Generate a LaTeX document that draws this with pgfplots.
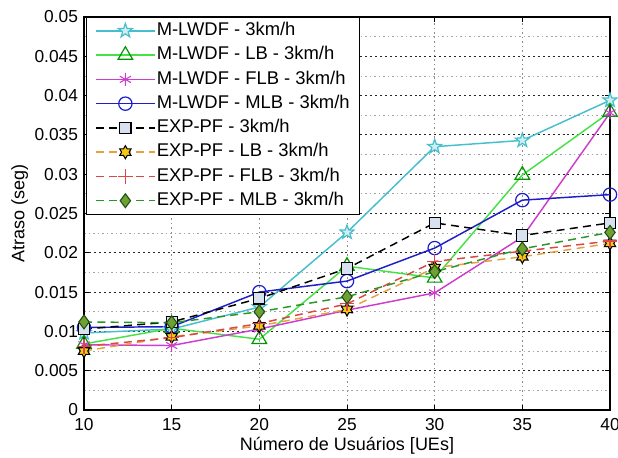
\documentclass[border=0pt]{standalone}
\usepackage{pgfplots}
\pgfplotsset{compat=1.18}
\usepackage{fontspec}
\setmainfont{Liberation Sans}
\usetikzlibrary{plotmarks}

\definecolor{cstar}{RGB}{70,190,205}
\definecolor{cgreen}{RGB}{70,225,70}
\definecolor{cgreenedge}{RGB}{0,150,0}
\definecolor{cmag}{RGB}{205,60,205}
\definecolor{cblue}{RGB}{30,30,200}
\definecolor{csqfill}{RGB}{215,225,240}
\definecolor{corange}{RGB}{230,160,60}
\definecolor{cyellow}{RGB}{245,200,20}
\definecolor{cred}{RGB}{220,70,70}
\definecolor{cdgreen}{RGB}{40,150,40}
\definecolor{cdiam}{RGB}{110,160,50}
\definecolor{cdiamedge}{RGB}{30,80,20}

\pgfdeclareplotmark{pentagram}{%
  \pgfpathmoveto{\pgfpointpolar{90}{\pgfplotmarksize}}%
  \pgfpathlineto{\pgfpointpolar{126}{0.40\pgfplotmarksize}}%
  \pgfpathlineto{\pgfpointpolar{162}{\pgfplotmarksize}}%
  \pgfpathlineto{\pgfpointpolar{198}{0.40\pgfplotmarksize}}%
  \pgfpathlineto{\pgfpointpolar{234}{\pgfplotmarksize}}%
  \pgfpathlineto{\pgfpointpolar{270}{0.40\pgfplotmarksize}}%
  \pgfpathlineto{\pgfpointpolar{306}{\pgfplotmarksize}}%
  \pgfpathlineto{\pgfpointpolar{342}{0.40\pgfplotmarksize}}%
  \pgfpathlineto{\pgfpointpolar{18}{\pgfplotmarksize}}%
  \pgfpathlineto{\pgfpointpolar{54}{0.40\pgfplotmarksize}}%
  \pgfpathclose
  \pgfusepathqfillstroke}
\pgfdeclareplotmark{hexagram}{%
  \pgfpathmoveto{\pgfpointpolar{90}{\pgfplotmarksize}}%
  \pgfpathlineto{\pgfpointpolar{120}{0.577\pgfplotmarksize}}%
  \pgfpathlineto{\pgfpointpolar{150}{\pgfplotmarksize}}%
  \pgfpathlineto{\pgfpointpolar{180}{0.577\pgfplotmarksize}}%
  \pgfpathlineto{\pgfpointpolar{210}{\pgfplotmarksize}}%
  \pgfpathlineto{\pgfpointpolar{240}{0.577\pgfplotmarksize}}%
  \pgfpathlineto{\pgfpointpolar{270}{\pgfplotmarksize}}%
  \pgfpathlineto{\pgfpointpolar{300}{0.577\pgfplotmarksize}}%
  \pgfpathlineto{\pgfpointpolar{330}{\pgfplotmarksize}}%
  \pgfpathlineto{\pgfpointpolar{0}{0.577\pgfplotmarksize}}%
  \pgfpathlineto{\pgfpointpolar{30}{\pgfplotmarksize}}%
  \pgfpathlineto{\pgfpointpolar{60}{0.577\pgfplotmarksize}}%
  \pgfpathclose
  \pgfusepathqfillstroke}

\begin{document}
\begin{tikzpicture}
\begin{axis}[
  scale only axis,
  width=394.5pt, height=294.75pt,
  xmin=10, xmax=40, ymin=0, ymax=0.05,
  xtick={10,15,20,25,30,35,40},
  ytick={0,0.005,0.01,0.015,0.02,0.025,0.03,0.035,0.04,0.045,0.05},
  yticklabels={0,0.005,0.01,0.015,0.02,0.025,0.03,0.035,0.04,0.045,0.05},
  minor y tick num=1,
  scaled y ticks=false,
  /pgf/number format/assume math mode=true,
  tick label style={font=\fontsize{13}{15}\selectfont},
  xticklabel style={yshift=-3pt},
  yticklabel style={xshift=-1pt},
  label style={font=\fontsize{13.5}{16}\selectfont},
  xlabel={Número de Usuários [UEs]},
  ylabel={Atraso (seg)},
  xlabel style={yshift=2pt},
  ylabel style={yshift=-2pt},
  axis line style={black, line width=0.8pt},
  tick style={black, line width=0.6pt},
  major tick length=4pt, minor tick length=0pt,
  xmajorgrids, ymajorgrids, yminorgrids,
  major x grid style={black!45, line width=0.6pt, dash pattern=on 1.2pt off 2.2pt},
  major y grid style={black!85, line width=0.8pt, dash pattern=on 1.5pt off 2.2pt},
  minor y grid style={black!35, line width=0.6pt, dash pattern=on 1.2pt off 2.2pt},
  legend cell align=left,
  legend style={at={(0.004,1)}, anchor=north west, draw=black, line width=0.8pt,
    font=\fontsize{13.8}{16}\selectfont, inner xsep=6.5pt, inner ysep=2.5pt,
    row sep=3.2pt,
    nodes={inner sep=1pt, text height=10pt, text depth=3pt}},
  legend image code/.code={%
    \draw[#1, line width=1.1pt] (0pt,0pt) -- (44pt,0pt);
    \draw[#1, solid] plot coordinates {(22pt,0pt)};},
  every axis plot/.append style={line width=1.1pt},
]
% M-LWDF
\addplot[color=cstar, mark=pentagram, mark size=5.5pt, mark options={solid, fill=cstar!25, line width=0.9pt}]
  coordinates {(10,0.0098) (15,0.0103) (20,0.0131) (25,0.0226) (30,0.0335) (35,0.0343) (40,0.0394)};
\addlegendentry{M-LWDF - 3km/h}
% M-LWDF LB
\addplot[color=cgreen, mark=triangle, mark size=6.3pt, mark options={solid, draw=cgreenedge, fill=white, line width=0.9pt}]
  coordinates {(10,0.0084) (15,0.0104) (20,0.0090) (25,0.0183) (30,0.0168) (35,0.0299) (40,0.0379)};
\addlegendentry{M-LWDF - LB - 3km/h}
% M-LWDF FLB
\addplot[color=cmag, mark=asterisk, mark size=4.8pt, mark options={solid, line width=0.8pt}]
  coordinates {(10,0.0083) (15,0.0082) (20,0.0103) (25,0.0127) (30,0.0149) (35,0.0220) (40,0.0378)};
\addlegendentry{M-LWDF - FLB - 3km/h}
% M-LWDF MLB
\addplot[color=cblue, mark=o, mark size=5pt, mark options={solid, fill=none, line width=0.9pt}]
  coordinates {(10,0.0105) (15,0.0106) (20,0.0150) (25,0.0164) (30,0.0206) (35,0.0267) (40,0.0274)};
\addlegendentry{M-LWDF - MLB - 3km/h}
% EXP-PF
\addplot[color=black, dash pattern=on 6pt off 4pt, mark=square*, mark size=4.2pt, mark options={solid, draw=black, fill=csqfill, line width=0.8pt}]
  coordinates {(10,0.0103) (15,0.0112) (20,0.0142) (25,0.0180) (30,0.0238) (35,0.0222) (40,0.0238)};
\addlegendentry{EXP-PF - 3km/h}
% EXP-PF LB
\addplot[color=corange, dash pattern=on 6pt off 4pt, mark=hexagram, mark size=4.9pt, mark options={solid, draw=black, fill=cyellow, line width=0.8pt}]
  coordinates {(10,0.0075) (15,0.0093) (20,0.0107) (25,0.0128) (30,0.0181) (35,0.0195) (40,0.0212)};
\addlegendentry{EXP-PF - LB - 3km/h}
% EXP-PF FLB
\addplot[color=cred, dash pattern=on 6pt off 4pt, mark=+, mark size=5.5pt, mark options={solid, line width=0.9pt}]
  coordinates {(10,0.0081) (15,0.0092) (20,0.0110) (25,0.0135) (30,0.0189) (35,0.0202) (40,0.0215)};
\addlegendentry{EXP-PF - FLB - 3km/h}
% EXP-PF MLB
\addplot[color=cdgreen, dash pattern=on 6pt off 4pt, mark=diamond*, mark size=5.2pt, mark options={solid, draw=cdiamedge, fill=cdiam, line width=0.8pt}]
  coordinates {(10,0.0112) (15,0.0111) (20,0.0125) (25,0.0144) (30,0.0176) (35,0.0205) (40,0.0226)};
\addlegendentry{EXP-PF - MLB - 3km/h}
\end{axis}
\pgfresetboundingbox
\path[use as bounding box] ([shift={(-63pt,-36pt)}]current axis.south west) rectangle ([shift={(6pt,12.75pt)}]current axis.north east);
\end{tikzpicture}
\end{document}
